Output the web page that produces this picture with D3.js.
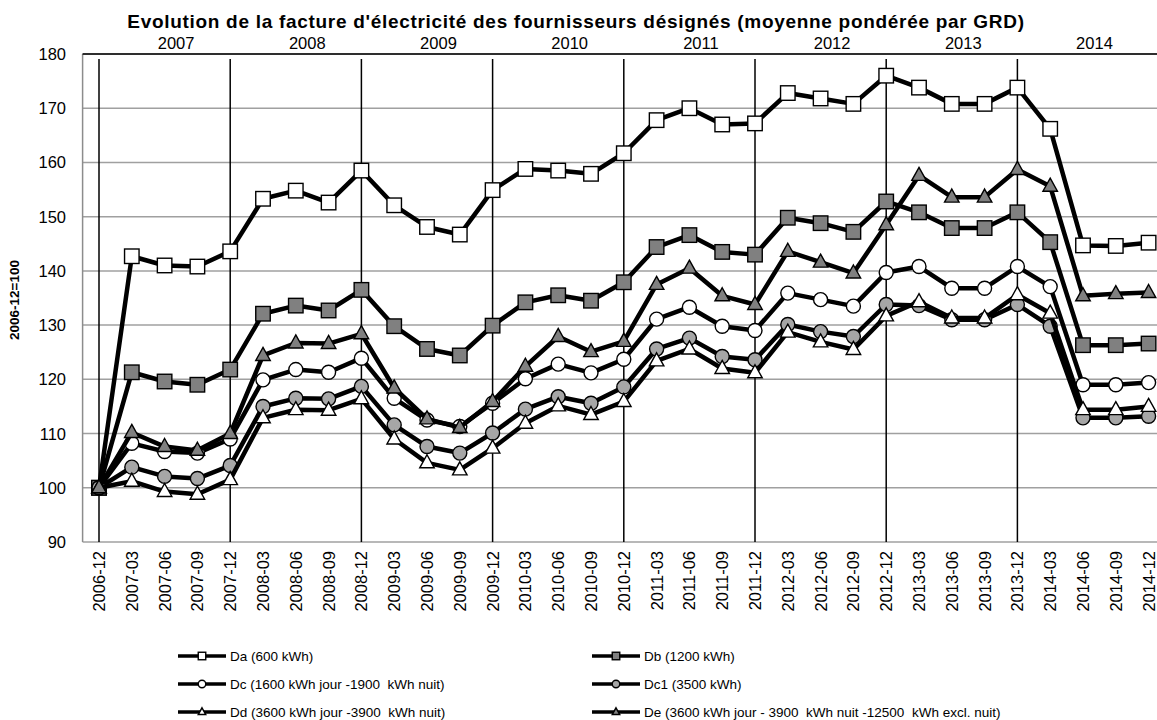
<!DOCTYPE html>
<html>
<head>
<meta charset="utf-8">
<script src="https://cdnjs.cloudflare.com/ajax/libs/d3/7.8.5/d3.min.js"></script>
<style>
  body { margin: 0; background: #fff; }
  svg { display: block; font-family: "Liberation Sans", Arial, sans-serif; }
</style>
</head>
<body>
<svg id="chart" width="1157" height="720"></svg>
<script>
// categories (quarters) and year labels of the top axis
var quarters = ["2006-12","2007-03","2007-06","2007-09","2007-12","2008-03","2008-06","2008-09","2008-12",
  "2009-03","2009-06","2009-09","2009-12","2010-03","2010-06","2010-09","2010-12",
  "2011-03","2011-06","2011-09","2011-12","2012-03","2012-06","2012-09","2012-12",
  "2013-03","2013-06","2013-09","2013-12","2014-03","2014-06","2014-09","2014-12"];
var years = ["2007","2008","2009","2010","2011","2012","2013","2014"];
var yTicks = [90,100,110,120,130,140,150,160,170,180];

// series values (index 2006-12 = 100)
var da  = [100,142.7,141.0,140.8,143.6,153.3,154.8,152.6,158.5,152.1,148.1,146.7,154.9,158.8,158.5,157.9,161.7,
  167.8,170.0,167.0,167.2,172.8,171.8,170.8,176.0,173.8,170.8,170.8,173.8,166.2,144.7,144.6,145.2];
var db  = [100,121.3,119.6,119.0,121.8,132.1,133.6,132.7,136.5,129.8,125.6,124.4,129.9,134.2,135.5,134.5,137.9,
  144.4,146.6,143.5,143.0,149.8,148.8,147.2,152.8,150.8,147.9,147.9,150.8,145.3,126.3,126.3,126.6];
var dc  = [100,108.2,106.7,106.4,109.0,119.9,121.8,121.3,123.9,116.5,112.5,111.3,115.6,120.1,122.8,121.2,123.7,
  131.1,133.3,129.8,129.0,135.9,134.7,133.5,139.7,140.8,136.8,136.8,140.8,137.1,119.0,119.0,119.4];
var dc1 = [100,103.8,102.1,101.7,104.1,115.0,116.5,116.4,118.7,111.6,107.6,106.4,110.1,114.5,116.8,115.6,118.6,
  125.6,127.6,124.2,123.6,130.1,128.8,127.9,133.8,133.6,131.0,131.0,133.8,129.8,112.9,112.9,113.2];
var dd  = [100,101.2,99.3,98.8,101.5,112.9,114.4,114.3,116.4,109.0,104.6,103.3,107.3,111.9,115.1,113.5,115.9,
  123.4,125.6,122.0,121.2,128.7,126.9,125.5,131.7,134.3,131.3,131.3,135.6,132.2,114.4,114.4,115.0];
var de  = [100,110.2,107.6,106.9,110.0,124.4,126.7,126.6,128.4,118.4,112.7,111.1,115.9,122.4,127.9,125.1,127.0,
  137.5,140.5,135.4,133.8,143.6,141.6,139.6,148.5,157.6,153.6,153.6,158.7,155.6,135.4,135.8,136.0];

var seriesNames = ["Da (600 kWh)","Db (1200 kWh)","Dc (1600 kWh jour -1900  kWh nuit)","Dc1 (3500 kWh)",
  "Dd (3600 kWh jour -3900  kWh nuit)","De (3600 kWh jour - 3900  kWh nuit -12500  kWh excl. nuit)"];
var seriesValues = [da, db, dc, dc1, dd, de];
var markerShapes = ["square","square","circle","circle","triangle","triangle"];
var markerFills = ["#ffffff","#808080","#ffffff","#a6a6a6","#ffffff","#808080"];

var svg = d3.select("#chart");

//scales: one point per quarter, the last one runs off the right edge like in the original
var x = d3.scalePoint().domain(quarters).range([99, 99 + 32*32.8]);
var y = d3.scaleLinear().domain([90,180]).range([542,54]);
var plotLeft = 82.6, plotRight = 1157;

//horizontal gridlines
svg.append("g").selectAll("line").data(yTicks).enter().append("line")
  .attr("x1", plotLeft).attr("x2", plotRight)
  .attr("y1", function(d){ return y(d); }).attr("y2", function(d){ return y(d); })
  .style("stroke", "#a0a0a0").style("stroke-width", 1.5);

//left axis line
svg.append("line").attr("x1", plotLeft).attr("x2", plotLeft).attr("y1", y(180)).attr("y2", y(90))
  .style("stroke", "#8c8c8c").style("stroke-width", 1.5);

//top axis (years) black line
svg.append("line").attr("x1", plotLeft).attr("x2", plotRight).attr("y1", y(180)).attr("y2", y(180))
  .style("stroke", "#000").style("stroke-width", 1.5);

//vertical separators at each december
var decembers = quarters.filter(function(q){ return q.slice(5) === "12" && q !== "2014-12"; });
svg.append("g").selectAll("line").data(decembers).enter().append("line")
  .attr("x1", function(d){ return x(d); }).attr("x2", function(d){ return x(d); })
  .attr("y1", y(180) + 5).attr("y2", y(90))
  .style("stroke", "#000").style("stroke-width", 1.5);

//y tick labels
svg.append("g").selectAll("text").data(yTicks).enter().append("text")
  .attr("x", 66).attr("y", function(d){ return y(d) + 6; })
  .attr("text-anchor", "end").style("font-size", "16.5px").text(function(d){ return d; });

//y axis title
svg.append("text").attr("transform", "translate(19,300) rotate(-90)")
  .attr("text-anchor", "middle").style("font-size", "13.5px").style("font-weight", "bold")
  .text("2006-12=100");

//x tick labels (rotated)
svg.append("g").selectAll("text").data(quarters).enter().append("text")
  .attr("transform", function(d){ return "translate(" + (x(d) + 6) + ",551) rotate(-90)"; })
  .attr("text-anchor", "end").style("font-size", "16.5px").text(function(d){ return d; });

//year labels on top
var step = x.step();
svg.append("g").selectAll("text").data(years).enter().append("text")
  .attr("x", function(d, i){ return x(quarters[0]) + (4*i + 2.35)*step; })
  .attr("y", 49).attr("text-anchor", "middle").style("font-size", "16.5px").text(function(d){ return d; });

//title
svg.append("text").attr("x", 576).attr("y", 28).attr("text-anchor", "middle")
  .style("font-size", "19px").style("font-weight", "bold").style("letter-spacing", "0.7px")
  .text("Evolution de la facture d'électricité des fournisseurs désignés (moyenne pondérée par GRD)");

//draw one marker of a given shape and size
function drawMarker(sel, shape, fill, size){
  if(shape === "square"){
    sel.append("rect").attr("x", -size/2).attr("y", -size/2).attr("width", size).attr("height", size);
  } else if(shape === "circle"){
    sel.append("circle").attr("r", size/2);
  } else {
    var h = size*0.9;
    sel.append("path").attr("d", "M0," + (-h*0.62) + "L" + (size/2) + "," + (h*0.38) + "L" + (-size/2) + "," + (h*0.38) + "Z");
  }
  sel.selectAll("*").style("fill", fill).style("stroke", "#000").style("stroke-width", 1.4);
}

var line = d3.line()
  .x(function(d, i){ return x(quarters[i]); })
  .y(function(d){ return y(d); });

//series, each line then its markers, in legend order
seriesValues.forEach(function(vals, s){
  var g = svg.append("g");
  g.append("path").datum(vals).attr("d", line)
    .style("fill", "none").style("stroke", "#000").style("stroke-width", 4.5).style("stroke-linejoin", "round");
  g.selectAll("g.m").data(vals).enter().append("g").attr("class", "m")
    .attr("transform", function(d, i){ return "translate(" + x(quarters[i]) + "," + y(d) + ")"; })
    .each(function(){ drawMarker(d3.select(this), markerShapes[s], markerFills[s], markerShapes[s] === "circle" ? 14 : 14.5); });
});

//legend, two columns
var legend = svg.append("g");
seriesNames.forEach(function(name, s){
  var lx = s % 2 === 0 ? 178 : 592;
  var ly = 656 + Math.floor(s / 2) * 28;
  legend.append("line").attr("x1", lx).attr("x2", lx + 48).attr("y1", ly).attr("y2", ly)
    .style("stroke", "#000").style("stroke-width", 3.5);
  var m = legend.append("g").attr("transform", "translate(" + (lx + 24) + "," + ly + ")");
  drawMarker(m, markerShapes[s], markerFills[s], 7.5);
  legend.append("text").attr("x", lx + 52).attr("y", ly + 4.5)
    .style("font-size", "13.5px").style("white-space", "pre").text(name);
});
</script>
</body>
</html>
